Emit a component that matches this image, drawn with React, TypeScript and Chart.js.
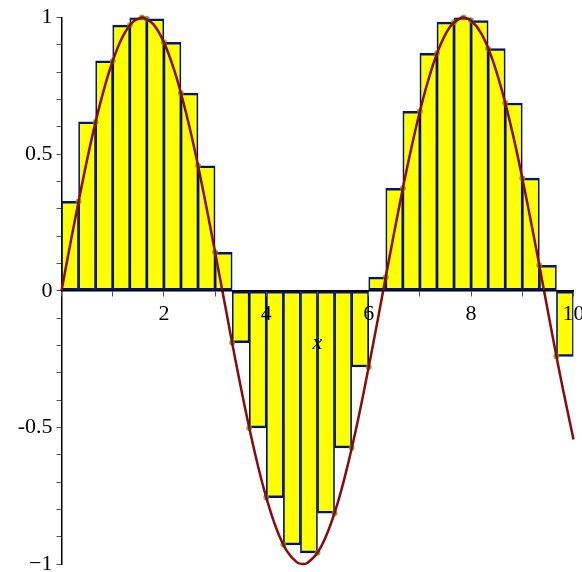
import React, { useEffect, useRef } from "react";
import { Chart, registerables } from "chart.js";

Chart.register(...registerables);

// Curve y = sin(x)
const CURVE_X = [0, 0.2, 0.4, 0.6, 0.8, 1, 1.2, 1.4, 1.57, 1.6, 1.8, 2, 2.2, 2.4, 2.6, 2.8, 3, 3.2, 3.4, 3.6, 3.8, 4, 4.2, 4.4, 4.6, 4.71, 4.8, 5, 5.2, 5.4, 5.6, 5.8, 6, 6.2, 6.4, 6.6, 6.8, 7, 7.2, 7.4, 7.6, 7.8, 7.85, 8, 8.2, 8.4, 8.6, 8.8, 9, 9.2, 9.4, 9.6, 9.8, 10];
const CURVE_Y = [0, 0.199, 0.389, 0.565, 0.717, 0.841, 0.932, 0.985, 1.0, 0.9996, 0.974, 0.909, 0.808, 0.675, 0.516, 0.335, 0.141, -0.058, -0.256, -0.443, -0.612, -0.757, -0.872, -0.952, -0.994, -1.0, -0.996, -0.959, -0.883, -0.773, -0.631, -0.465, -0.279, -0.083, 0.117, 0.312, 0.494, 0.657, 0.794, 0.899, 0.969, 0.999, 1.0, 0.989, 0.941, 0.855, 0.734, 0.585, 0.412, 0.223, 0.025, -0.175, -0.366, -0.544];

// Rectangles (upper sum, 30 subintervals)
const BAR_CENTERS = [0.1667, 0.5, 0.8333, 1.1667, 1.5, 1.8333, 2.1667, 2.5, 2.8333, 3.1667, 3.5, 3.8333, 4.1667, 4.5, 4.8333, 5.1667, 5.5, 5.8333, 6.1667, 6.5, 6.8333, 7.1667, 7.5, 7.8333, 8.1667, 8.5, 8.8333, 9.1667, 9.5, 9.8333];
const BAR_HEIGHTS = [0.327, 0.618, 0.841, 0.972, 1.0, 0.995, 0.909, 0.723, 0.457, 0.141, -0.19, -0.502, -0.757, -0.93, -0.959, -0.814, -0.575, -0.279, 0.05, 0.375, 0.657, 0.869, 0.983, 1.0, 0.989, 0.886, 0.687, 0.412, 0.093, -0.24];

// Sample points (where the rectangle height is taken)
const SAMPLE_X = [0.3333, 0.6667, 1, 1.3333, 1.5708, 1.6667, 2, 2.3333, 2.6667, 3, 3.3333, 3.6667, 4, 4.3333, 5, 5.3333, 5.6667, 6, 6.3333, 6.6667, 7, 7.3333, 7.6667, 7.854, 8, 8.3333, 8.6667, 9, 9.3333, 9.6667];
const SAMPLE_Y = BAR_HEIGHTS;

const X_LABEL_VALUES = [2, 4, 6, 8, 10];
const X_LABEL_TEXT = ["2", "4", "6", "8", "10"];
const Y_LABEL_VALUES = [-1, -0.5, 0, 0.5, 1];
const Y_LABEL_TEXT = ["\u22121", "-0.5", "0", "0.5", "1"];
const X_TITLE = "x";

function labelFor(values: number[], texts: string[], v: number): string {
  for (let i = 0; i < values.length; i++) {
    if (Math.abs(values[i] - v) < 1e-6) return texts[i];
  }
  return "";
}

export default function App() {
  const ref = useRef<HTMLCanvasElement>(null);
  useEffect(() => {
    document.body.style.margin = "0";
    const chart = new Chart(ref.current as HTMLCanvasElement, {
      type: "bar",
      data: {
        datasets: [
          {
            type: "line",
            label: "curve",
            data: CURVE_X.map((x, i) => ({ x, y: CURVE_Y[i] })),
            borderColor: "#880a0a",
            borderWidth: 2.5,
            pointRadius: 0,
            tension: 0.4,
            fill: false,
            clip: false,
            order: 1,
          } as any,
          {
            type: "line",
            label: "samples",
            data: SAMPLE_X.map((x, i) => ({ x, y: SAMPLE_Y[i] })),
            showLine: false,
            pointRadius: 3,
            pointBackgroundColor: "rgba(100,150,50,0.8)",
            pointBorderWidth: 0,
            clip: false,
            order: 2,
          } as any,
          {
            type: "bar",
            label: "rects",
            data: BAR_CENTERS.map((x, i) => ({ x, y: BAR_HEIGHTS[i] })),
            backgroundColor: "#ffff00",
            borderColor: "#00137f",
            borderWidth: { top: 2.5, bottom: 2.5, left: 1.7, right: 1.7 },
            borderSkipped: false,
            barPercentage: 1,
            categoryPercentage: 1,
            order: 3,
          } as any,
        ],
      },
      options: {
        animation: false,
        responsive: false,
        devicePixelRatio: 1,
        layout: { padding: { top: 17.5, right: 8.5, bottom: 8, left: 0 } },
        plugins: { legend: { display: false }, tooltip: { enabled: false } },
        scales: {
          x: {
            type: "linear",
            min: 0,
            max: 10,
            position: { y: 0 } as any,
            offset: false,
            grid: { display: true, drawOnChartArea: false, drawTicks: true, tickLength: 5, color: "#555", lineWidth: 1, offset: false, z: 1 },
            border: { display: true, color: "#000", width: 1.5, z: 1 },
            ticks: {
              z: 1,
              stepSize: 1,
              autoSkip: false,
              maxRotation: 0,
              padding: 5,
              color: "#000",
              font: { family: "Liberation Serif", size: 22 },
              callback: (v: any) => labelFor(X_LABEL_VALUES, X_LABEL_TEXT, Number(v)),
            },
            title: {
              display: true,
              text: X_TITLE,
              color: "#000",
              font: { family: "Liberation Serif", size: 22, style: "italic", lineHeight: 1.0 },
              padding: { top: 0, bottom: 0 },
            },
            afterFit: (s: any) => {
              s.paddingLeft = 0;
              s.paddingRight = 0;
            },
          } as any,
          y: {
            type: "linear",
            min: -1,
            max: 1,
            position: "left",
            grid: { display: true, drawOnChartArea: false, drawTicks: true, tickLength: 5, color: "#555", lineWidth: 1 },
            border: { display: true, color: "#000", width: 1.5 },
            ticks: {
              stepSize: 0.1,
              autoSkip: false,
              padding: 4,
              color: "#000",
              font: { family: "Liberation Serif", size: 22 },
              callback: (v: any) => labelFor(Y_LABEL_VALUES, Y_LABEL_TEXT, Number(v)),
            },
            afterFit: (s: any) => {
              s.width = 61.5;
              s.paddingTop = 0;
              s.paddingBottom = 0;
            },
          } as any,
        },
      },
    });
    return () => chart.destroy();
  }, []);
  return <canvas ref={ref} width={582} height={572} style={{ display: "block" }} />;
}
